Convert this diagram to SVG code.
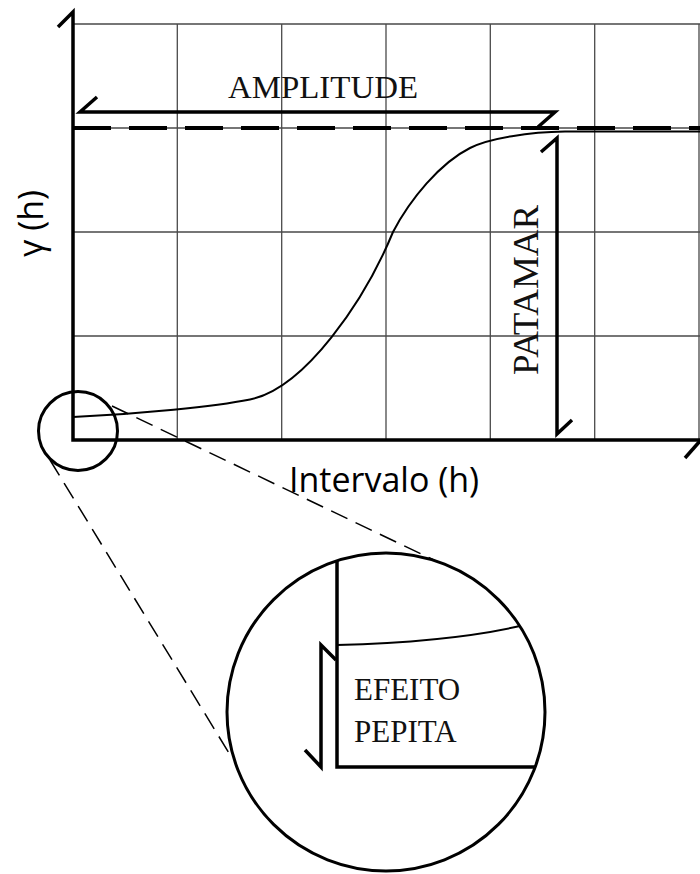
<svg xmlns="http://www.w3.org/2000/svg" width="700" height="874" viewBox="0 0 700 874">
  <style>
    .grid { stroke: #4a4a4a; stroke-width: 1.3; fill: none; }
    .thick { stroke: #000; stroke-width: 3.5; fill: none; stroke-linecap: butt; stroke-linejoin: miter; }
    .curve { stroke: #000; stroke-width: 2; fill: none; }
    .dash { stroke: #000; stroke-width: 1.5; fill: none; stroke-dasharray: 18 9; }
    .bigdash { stroke: #000; stroke-width: 4; fill: none; stroke-dasharray: 38 18; }
    .serif { font-family: "Liberation Serif", "Times New Roman", serif; fill: #111; }
    .sans { font-family: "Open Sans", "Noto Sans", "DejaVu Sans", sans-serif; fill: #000; }
  </style>
  <rect width="700" height="874" fill="#fff"/>

  <g id="grid">
    <path class="grid" d="M73,24H700 M73,128H700 M73,232H700 M73,336H700"/>
    <path class="grid" d="M177.3,24V440 M281.7,24V440 M386,24V440 M490.3,24V440 M594.7,24V440 M699,24V440"/>
  </g>

  <g id="axes">
    <path class="thick" d="M58,27 L73,12 V440 H700"/>
    <path class="thick" d="M700,441 L685,458"/>
  </g>

  <g id="sill-line">
    <path class="bigdash" d="M73,128 H700"/>
  </g>

  <g id="curve">
    <path class="curve" d="M73,417 C140,414 215,406.5 250,399.5 C305,388.5 365,300 393,232 C410,199.5 440,163 470,148 C490,138 530,132 565,131.5 L700,131.5"/>
  </g>

  <g id="amplitude">
    <path class="thick" d="M97,97 L80,112 H555 L538,127"/>
    <text class="serif" x="228" y="98" font-size="32" textLength="190" lengthAdjust="spacingAndGlyphs">AMPLITUDE</text>
  </g>

  <g id="patamar">
    <path class="thick" d="M541,152 L557,138 V434 L572,420"/>
    <text class="serif" transform="translate(538,375) rotate(-90)" font-size="35" textLength="170" lengthAdjust="spacingAndGlyphs">PATAMAR</text>
  </g>

  <g id="y-label">
    <text class="sans" transform="translate(43,257) rotate(-90)" font-size="34">γ (h)</text>
  </g>

  <g id="x-label">
    <text class="sans" x="289" y="492" font-size="34">Intervalo (h)</text>
  </g>

  <g id="connectors">
    <path class="dash" d="M112,406 L440,563"/>
    <path class="dash" d="M50,460 L232,758"/>
  </g>

  <g id="small-circle">
    <circle cx="78" cy="431" r="39.5" fill="none" stroke="#000" stroke-width="3"/>
  </g>

  <g id="zoom-circle">
    <circle cx="386" cy="712" r="159" fill="#fff" stroke="#000" stroke-width="3"/>
    <path class="thick" d="M337,561 V767 H536"/>
    <path class="curve" d="M337,645 Q450,642 520,626"/>
    <path class="thick" stroke-width="3" d="M305,750 L321,767 V645 L336,660"/>
    <text class="serif" x="354" y="700" font-size="31">EFEITO</text>
    <text class="serif" x="354" y="742" font-size="31">PEPITA</text>
  </g>
</svg>
